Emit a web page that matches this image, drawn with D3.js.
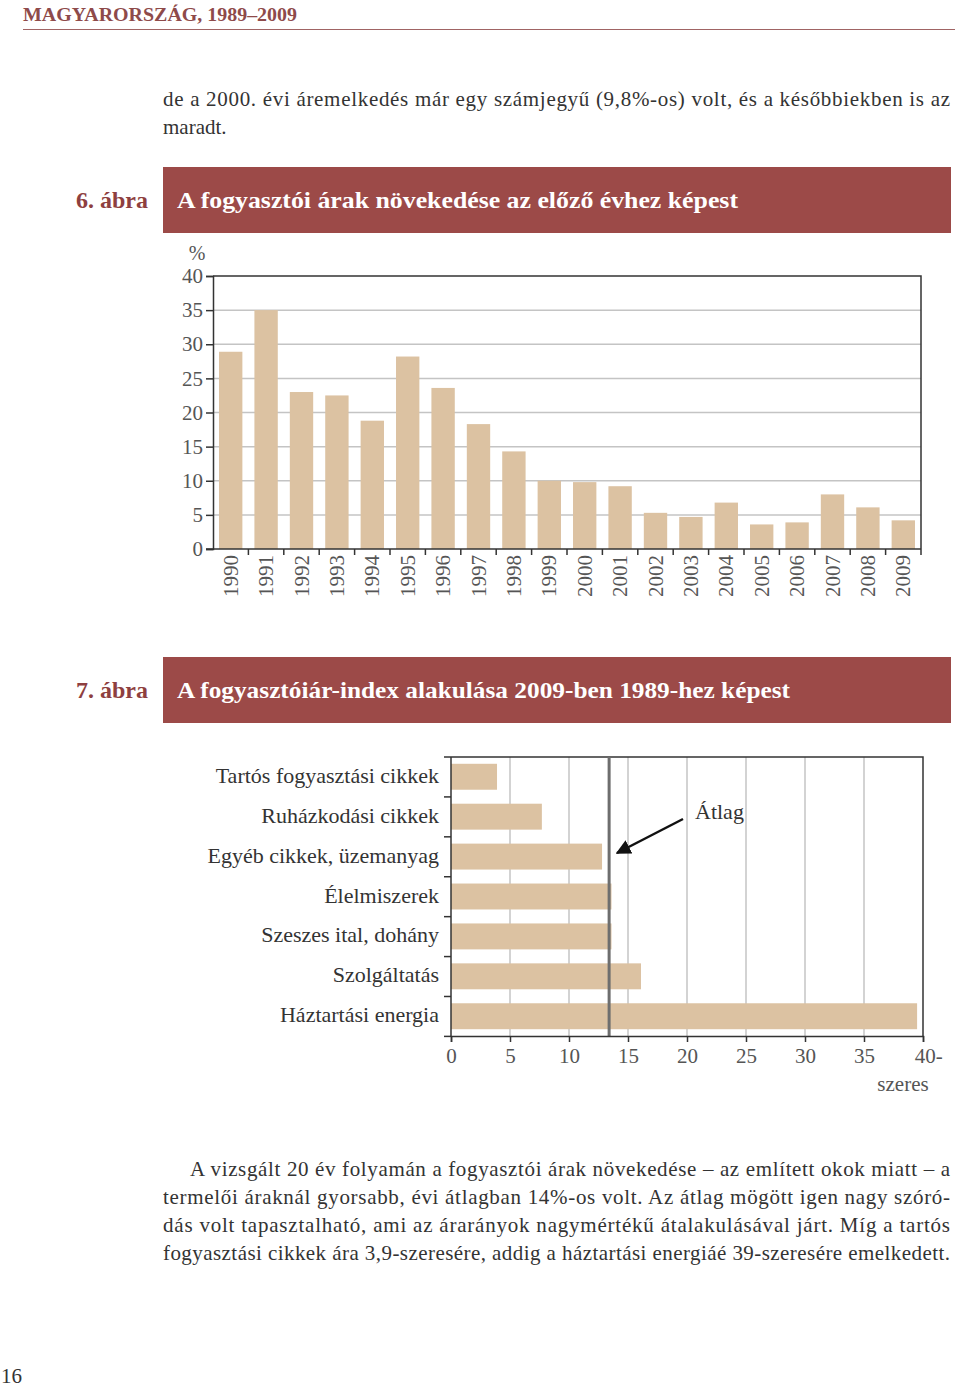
<!DOCTYPE html>
<html>
<head>
<meta charset="utf-8">
<script src="https://cdn.jsdelivr.net/npm/d3@7"></script>
<style>
	body { margin: 0; background: #fff; }
	svg { display: block; font-family: "Liberation Serif", "DejaVu Serif", serif; }
	.axis path, .axis line { stroke: #333; }
	.axis text { fill: #555; font-size: 20px; font-family: "Liberation Serif", serif; }
</style>
</head>
<body>
<div id="page"></div>
<script>
//---------------- data ----------------------
var years = ["1990", "1991", "1992", "1993", "1994", "1995", "1996", "1997", "1998", "1999",
	"2000", "2001", "2002", "2003", "2004", "2005", "2006", "2007", "2008", "2009"];
var inflation = [28.9, 35.0, 23.0, 22.5, 18.8, 28.2, 23.6, 18.3, 14.3, 10.0,
	9.8, 9.2, 5.3, 4.7, 6.8, 3.6, 3.9, 8.0, 6.1, 4.2];
var yTicks = [0, 5, 10, 15, 20, 25, 30, 35, 40];

var groups = ["Tartós fogyasztási cikkek", "Ruházkodási cikkek", "Egyéb cikkek, üzemanyag",
	"Élelmiszerek", "Szeszes ital, dohány", "Szolgáltatás", "Háztartási energia"];
var indexValues = [3.9, 7.7, 12.8, 13.6, 13.6, 16.1, 39.5];
var indexAverage = 13.4;
var xTicks2 = [0, 5, 10, 15, 20, 25, 30, 35, 40];

var w = 960;
var h = 1388;
var barColor = "#dcc2a2";
var titleColor = "#9c4a48";
var textColor = "#333";

var svg = d3.select("#page").append("svg").attr("width", w).attr("height", h);

//---------------- page header ----------------------
svg.append("text")
	.attr("x", 23).attr("y", 21)
	.style("font-size", "18px").style("font-weight", "bold")
	.attr("fill", "#8e4a4a")
	.attr("textLength", 274).attr("lengthAdjust", "spacingAndGlyphs")
	.text("MAGYARORSZÁG, 1989–2009");
svg.append("line")
	.attr("x1", 23).attr("x2", 955).attr("y1", 29.5).attr("y2", 29.5)
	.attr("stroke", "#a06464").attr("stroke-width", 1.2);

// paragraph lines (justified via textLength)
var bodyText = function(x, y, str, len) {
	var t = svg.append("text")
		.attr("x", x).attr("y", y)
		.style("font-size", "21px")
		.attr("fill", textColor)
		.text(str);
	if (len) t.attr("textLength", len).attr("lengthAdjust", "spacing");
	return t;
};
bodyText(163, 106, "de a 2000. évi áremelkedés már egy számjegyű (9,8%-os) volt, és a későbbiekben is az", 787);
bodyText(163, 134, "maradt.");

//---------------- figure title bars ----------------------
var figureTitle = function(y, num, title, len) {
	svg.append("text")
		.attr("x", 76).attr("y", y + 41)
		.style("font-size", "23px").style("font-weight", "bold")
		.attr("fill", "#8e3f3f")
		.attr("textLength", 72).attr("lengthAdjust", "spacingAndGlyphs")
		.text(num);
	svg.append("rect")
		.attr("x", 163).attr("y", y).attr("width", 788).attr("height", 66)
		.attr("fill", titleColor);
	svg.append("text")
		.attr("x", 177).attr("y", y + 41)
		.style("font-size", "24px").style("font-weight", "bold")
		.attr("fill", "#fff")
		.attr("textLength", len).attr("lengthAdjust", "spacingAndGlyphs")
		.text(title);
};
figureTitle(167, "6. ábra", "A fogyasztói árak növekedése az előző évhez képest", 561);
figureTitle(657, "7. ábra", "A fogyasztóiár-index alakulása 2009-ben 1989-hez képest", 613);

//---------------- chart 6: bar chart ----------------------
var c1 = { left: 213, right: 921, top: 276, bottom: 549 };

var xScale = d3.scaleBand()
	.domain(years)
	.range([c1.left, c1.right])
	.paddingInner(0.34)
	.paddingOuter(0.17);

var yScale = d3.scaleLinear()
	.domain([0, 40])
	.range([c1.bottom, c1.top]);

// gridlines
svg.append("g").selectAll("line")
	.data(yTicks.filter(function(d) { return d > 0 && d < 40; }))
	.enter()
	.append("line")
	.attr("x1", c1.left).attr("x2", c1.right)
	.attr("y1", function(d) { return yScale(d); })
	.attr("y2", function(d) { return yScale(d); })
	.attr("stroke", "#c4c4c4").attr("stroke-width", 1.5);

// bars
svg.append("g").selectAll("rect")
	.data(years)
	.enter()
	.append("rect")
	.attr("x", function(d) { return xScale(d); })
	.attr("y", function(d, i) { return yScale(inflation[i]); })
	.attr("width", xScale.bandwidth())
	.attr("height", function(d, i) { return yScale(0) - yScale(inflation[i]); })
	.attr("fill", barColor);

// frame top + right
svg.append("path")
	.attr("d", "M" + c1.left + "," + c1.top + "H" + c1.right + "V" + c1.bottom)
	.attr("fill", "none").attr("stroke", "#333").attr("stroke-width", 1.5);

// y axis
var yAxis = d3.axisLeft(yScale).tickValues(yTicks).tickSize(7).tickPadding(3);
svg.append("g")
	.attr("class", "axis")
	.attr("transform", "translate(" + c1.left + ",0)")
	.call(yAxis)
	.call(function(g) {
		g.select(".domain").attr("stroke-width", 1.5);
		g.selectAll("line").attr("stroke-width", 1.5);
		g.selectAll("text").style("font-size", "21px");
	});

svg.append("text")
	.attr("x", 197).attr("y", 260)
	.attr("text-anchor", "middle")
	.style("font-size", "20px")
	.attr("fill", "#555")
	.text("%");

// x axis: ticks at band boundaries
var step = xScale.step();
var bounds = d3.range(years.length).map(function(i) { return c1.left + (i + 1) * step; });
var xAxisG = svg.append("g").attr("class", "axis");
xAxisG.append("line")
	.attr("x1", c1.left - 7).attr("x2", c1.right)
	.attr("y1", c1.bottom).attr("y2", c1.bottom)
	.attr("stroke", "#333").attr("stroke-width", 1.5);
xAxisG.selectAll(".bt")
	.data(bounds)
	.enter()
	.append("line")
	.attr("x1", function(d) { return d; }).attr("x2", function(d) { return d; })
	.attr("y1", c1.bottom).attr("y2", c1.bottom + 6)
	.attr("stroke", "#333").attr("stroke-width", 1.5);
xAxisG.selectAll("text")
	.data(years)
	.enter()
	.append("text")
	.attr("transform", function(d) {
		return "translate(" + (xScale(d) + xScale.bandwidth() / 2 + 7) + "," + (c1.bottom + 6) + ") rotate(-90)";
	})
	.attr("text-anchor", "end")
	.style("font-size", "21px")
	.text(function(d) { return d; });

//---------------- chart 7: horizontal bars ----------------------
var c2 = { left: 451, right: 923, top: 757, bottom: 1036 };

var xScale2 = d3.scaleLinear()
	.domain([0, 40])
	.range([c2.left, c2.right]);

var yScale2 = d3.scaleBand()
	.domain(groups)
	.range([c2.top, c2.bottom])
	.paddingInner(0.35)
	.paddingOuter(0.17);

// vertical gridlines
svg.append("g").selectAll("line")
	.data(xTicks2.filter(function(d) { return d > 0 && d < 40; }))
	.enter()
	.append("line")
	.attr("x1", function(d) { return xScale2(d); })
	.attr("x2", function(d) { return xScale2(d); })
	.attr("y1", c2.top).attr("y2", c2.bottom)
	.attr("stroke", "#c4c4c4").attr("stroke-width", 1.5);

svg.append("g").selectAll("rect")
	.data(groups)
	.enter()
	.append("rect")
	.attr("x", c2.left)
	.attr("y", function(d) { return yScale2(d); })
	.attr("width", function(d, i) { return xScale2(indexValues[i]) - c2.left; })
	.attr("height", yScale2.bandwidth())
	.attr("fill", barColor);

svg.append("path")
	.attr("d", "M" + c2.left + "," + c2.top + "H" + c2.right + "V" + c2.bottom)
	.attr("fill", "none").attr("stroke", "#333").attr("stroke-width", 1.5);

// average line
svg.append("line")
	.attr("x1", xScale2(indexAverage)).attr("x2", xScale2(indexAverage))
	.attr("y1", c2.top).attr("y2", c2.bottom)
	.attr("stroke", "#6e6e6e").attr("stroke-width", 3);

// bottom axis
var xAxis2 = d3.axisBottom(xScale2).tickValues(xTicks2).tickSize(6).tickPadding(6)
	.tickFormat(function(d) { return d === 40 ? "40-" : d; });
svg.append("g")
	.attr("class", "axis")
	.attr("transform", "translate(0," + c2.bottom + ")")
	.call(xAxis2)
	.call(function(g) {
		g.select(".domain").attr("stroke-width", 1.5);
		g.selectAll("line").attr("stroke-width", 1.5);
		g.selectAll("text").attr("fill", "#555").style("font-size", "21px");
		g.selectAll(".tick").filter(function(d) { return d === 40; })
			.select("text").attr("dx", "0.25em");
	});
svg.append("text")
	.attr("x", 903).attr("y", 1091)
	.attr("text-anchor", "middle")
	.style("font-size", "21px")
	.attr("fill", "#555")
	.text("szeres");

// left axis with ticks between categories
var step2 = yScale2.step();
var bounds2 = d3.range(groups.length + 1).map(function(i) { return c2.top + i * step2; });
svg.append("line")
	.attr("x1", c2.left).attr("x2", c2.left)
	.attr("y1", c2.top).attr("y2", c2.bottom)
	.attr("stroke", "#333").attr("stroke-width", 1.5);
svg.append("g").selectAll("line")
	.data(bounds2)
	.enter()
	.append("line")
	.attr("x1", c2.left - 7).attr("x2", c2.left)
	.attr("y1", function(d) { return d; }).attr("y2", function(d) { return d; })
	.attr("stroke", "#333").attr("stroke-width", 1.5);
svg.append("g").selectAll("text")
	.data(groups)
	.enter()
	.append("text")
	.attr("x", 439)
	.attr("y", function(d) { return yScale2(d) + yScale2.bandwidth() / 2 + 6; })
	.attr("text-anchor", "end")
	.style("font-size", "22px")
	.attr("fill", textColor)
	.text(function(d) { return d; });

// "Átlag" annotation with arrow
svg.append("defs").append("marker")
	.attr("id", "arrow")
	.attr("viewBox", "0 0 10 10")
	.attr("refX", 9).attr("refY", 5)
	.attr("markerWidth", 6).attr("markerHeight", 6)
	.attr("orient", "auto")
	.append("path")
	.attr("d", "M0,0L10,5L0,10z")
	.attr("fill", "#111");
svg.append("line")
	.attr("x1", 683).attr("y1", 819)
	.attr("x2", 617).attr("y2", 853)
	.attr("stroke", "#111").attr("stroke-width", 2.5)
	.attr("marker-end", "url(#arrow)");
svg.append("text")
	.attr("x", 695).attr("y", 819)
	.style("font-size", "22px")
	.attr("fill", textColor)
	.text("Átlag");

//---------------- closing paragraph ----------------------
bodyText(190, 1176, "A vizsgált 20 év folyamán a fogyasztói árak növekedése – az említett okok miatt – a", 760);
bodyText(163, 1204, "termelői áraknál gyorsabb, évi átlagban 14%-os volt. Az átlag mögött igen nagy szóró-", 787);
bodyText(163, 1232, "dás volt tapasztalható, ami az árarányok nagymértékű átalakulásával járt. Míg a tartós", 787);
bodyText(163, 1260, "fogyasztási cikkek ára 3,9-szeresére, addig a háztartási energiáé 39-szeresére emelkedett.", 787);

svg.append("text")
	.attr("x", 1).attr("y", 1383)
	.style("font-size", "21px")
	.attr("fill", textColor)
	.text("16");
</script>
</body>
</html>
